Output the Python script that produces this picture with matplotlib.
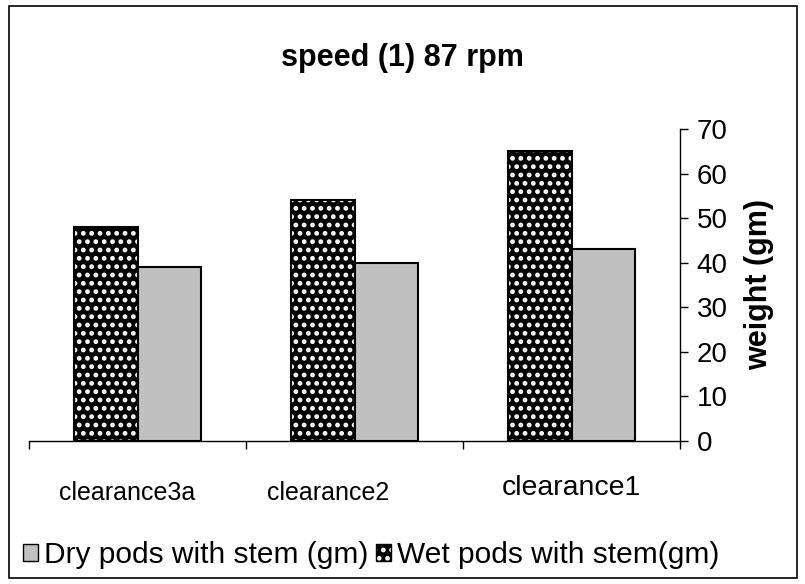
import matplotlib
matplotlib.use('Agg')
import matplotlib.pyplot as plt
from matplotlib.patches import Patch, Rectangle
import numpy as np

plt.rcParams['font.family'] = ['Liberation Sans', 'DejaVu Sans']
plt.rcParams['hatch.linewidth'] = 2.2

categories = ['clearance3a', 'clearance2', 'clearance1']
wet = [48, 54, 65]   # Wet pods with stem (gm)
dry = [39, 40, 43]   # Dry pods with stem (gm)
y_ticks = [0, 10, 20, 30, 40, 50, 60, 70]

title = 'speed (1) 87 rpm'
ylabel = 'weight (gm)'
dry_label = 'Dry pods with stem (gm)'
wet_label = 'Wet pods with stem(gm)'

fig = plt.figure(figsize=(8.05, 5.84), dpi=100)
ax = fig.add_axes([29/805, 1 - 441/584, (680 - 29)/805, (441 - 129)/584])

x = np.arange(len(categories)) + 0.5
w = 0.293

# wet bars: black ground with white dots, then black outline on top
ax.bar(x - w/2, wet, w, color='black', edgecolor='white', hatch='..', linewidth=0, zorder=2)
ax.bar(x - w/2, wet, w, fill=False, edgecolor='black', linewidth=1.5, zorder=3)
ax.bar(x + w/2, dry, w, color='#C0C0C0', edgecolor='black', linewidth=1.5, zorder=3)

ax.set_xlim(0, len(categories))
ax.set_ylim(0, 70)

for s in ['top', 'left']:
    ax.spines[s].set_visible(False)
ax.spines['right'].set_linewidth(1)
ax.spines['bottom'].set_linewidth(1)

ax.yaxis.tick_right()
ax.set_yticks(y_ticks)
ax.tick_params(axis='y', direction='out', length=6, width=1, labelsize=20, pad=6)
ax.set_xticks(np.arange(len(categories) + 1))
ax.set_xticklabels([])
ax.tick_params(axis='x', direction='out', length=6, width=1)

# category labels (Excel put them a bit off-centre and in uneven sizes)
offsets = [-0.05, -0.12, 0.0]
ypos = [-0.167, -0.167, -0.151]
sizes = [18, 18, 20.5]
for i, c in enumerate(categories):
    ax.text(x[i] + offsets[i], ypos[i], c, transform=ax.get_xaxis_transform(),
            ha='center', va='center', fontsize=sizes[i])

ax.yaxis.set_label_position('right')
ax.set_ylabel(ylabel, fontsize=22, fontweight='bold', labelpad=12)

fig.text(0.5, 1 - 58/584, title, ha='center', va='center', fontsize=22, fontweight='bold')

h_dry = Patch(facecolor='#C0C0C0', edgecolor='black', linewidth=1)
h_wet = (Patch(facecolor='black', edgecolor='white', hatch='..', linewidth=0),
         Patch(fill=False, edgecolor='black', linewidth=1))
fig.legend([h_dry, h_wet], [dry_label, wet_label], loc='center left',
           bbox_to_anchor=(23/805, 1 - 555/584), bbox_transform=fig.transFigure,
           ncol=2, frameon=False, fontsize=21.5, handlelength=0.5, handleheight=0.5,
           handletextpad=0.2, columnspacing=0.25, borderpad=0, borderaxespad=0)

# outer chart border
fig.patches.append(Rectangle((9/805, 1 - 578/584), (797 - 9)/805, (578 - 6)/584,
                             transform=fig.transFigure, fill=False,
                             edgecolor='black', linewidth=1.2))

fig.savefig('out.png', dpi=100)
